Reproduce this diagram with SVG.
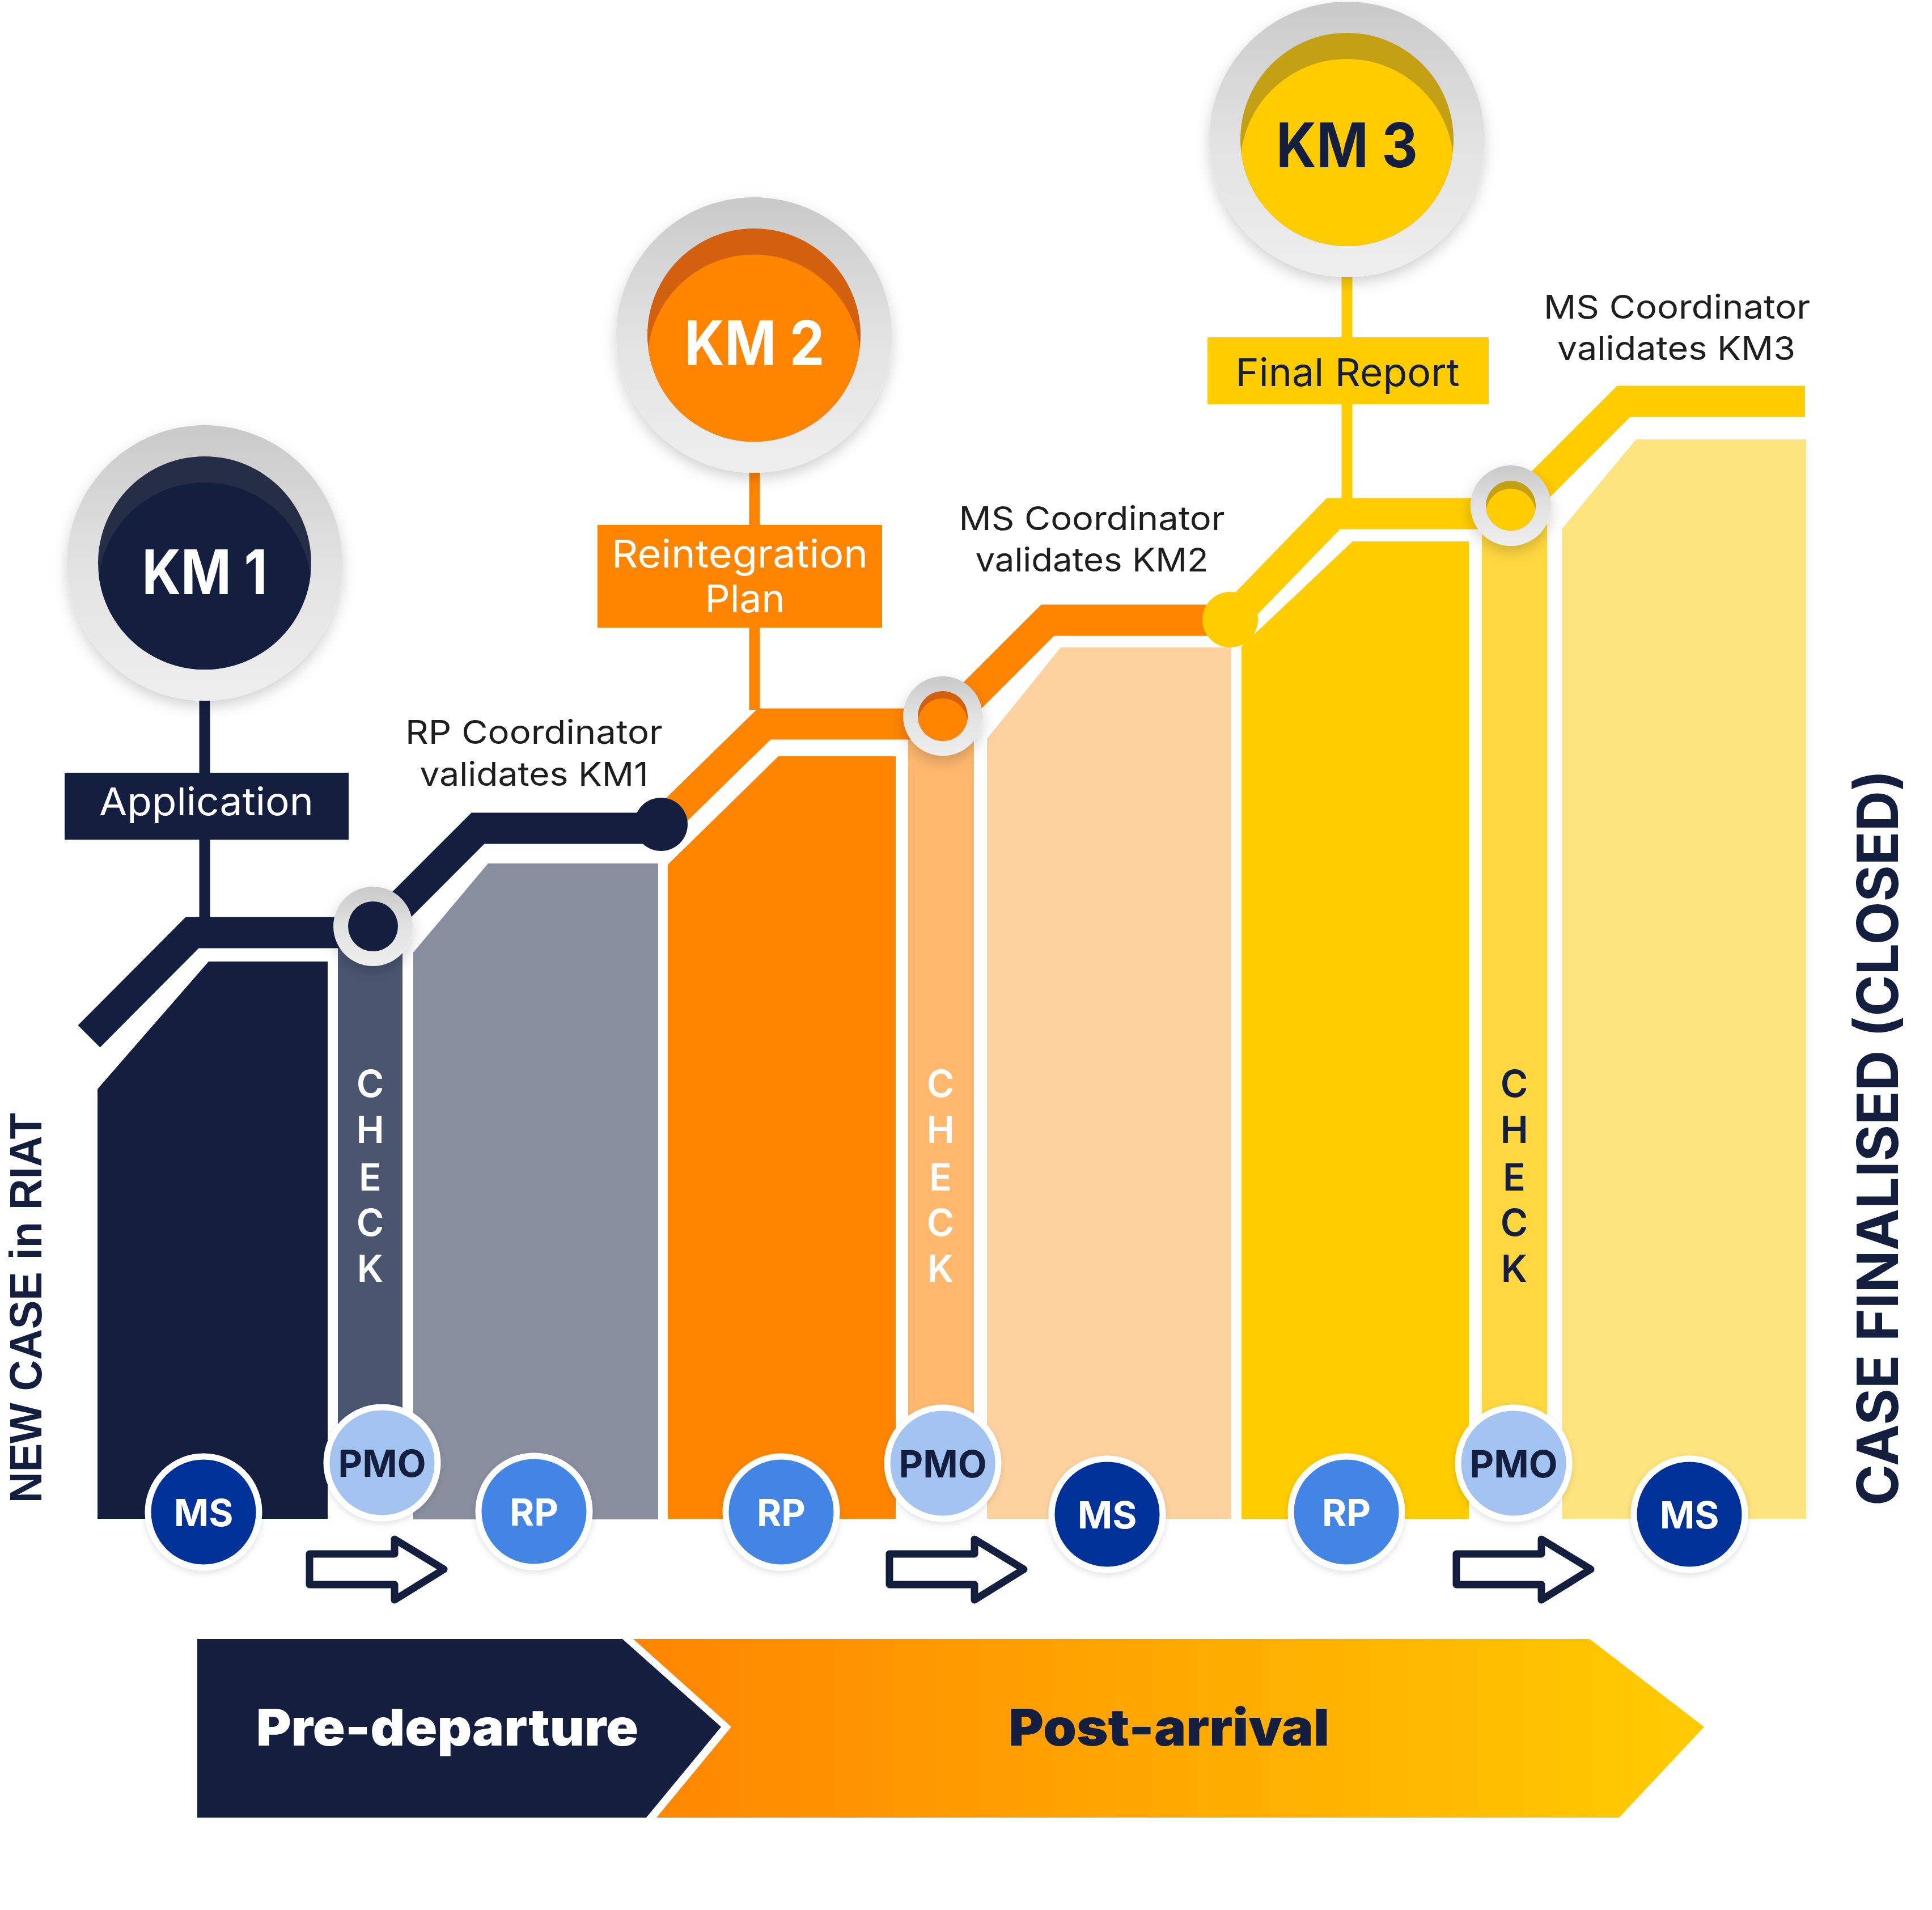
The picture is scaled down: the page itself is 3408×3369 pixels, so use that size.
<svg xmlns="http://www.w3.org/2000/svg" width="3408" height="3369" viewBox="0 0 3408 3369">
<defs>
<style>
.f{font-family:Inter,"Noto Sans","Liberation Sans",sans-serif}
.km{font-size:108px;font-weight:700;text-anchor:middle}
.lbl{font-size:68px;font-weight:400;text-anchor:middle}
.co{font-size:58px;font-weight:400;text-anchor:middle;fill:#1e1e1e}
.chk{font-size:66px;font-weight:600;text-anchor:middle}
.rl{font-size:66px;font-weight:700;text-anchor:middle}
.ln{fill:none;stroke-width:55;stroke-linejoin:miter;stroke-linecap:butt}
.stem{fill:none;stroke-width:19}
.ring{fill:url(#ringG);filter:url(#sh)}
.bc{stroke:#fff;stroke-width:11}
.arr{fill:#fff;stroke:#141F40;stroke-width:13;stroke-linejoin:round}
</style>
<linearGradient id="ringG" x1="0" y1="0" x2="0" y2="1">
<stop offset="0" stop-color="#C9C9C9"/>
<stop offset="0.5" stop-color="#E2E2E2"/>
<stop offset="1" stop-color="#EEEEEE"/>
</linearGradient>
<linearGradient id="postG" gradientUnits="userSpaceOnUse" x1="1117" y1="0" x2="3006" y2="0">
<stop offset="0" stop-color="#FF8500"/>
<stop offset="1" stop-color="#FFCC00"/>
</linearGradient>
<filter id="sh" x="-30%" y="-30%" width="160%" height="160%">
<feDropShadow dx="0" dy="10" stdDeviation="12" flood-color="#000" flood-opacity="0.18"/>
</filter>
<filter id="sh2" x="-30%" y="-30%" width="160%" height="160%">
<feDropShadow dx="0" dy="4" stdDeviation="6" flood-color="#000" flood-opacity="0.12"/>
</filter>
<clipPath id="ck1"><circle cx="361" cy="993" r="188"/></clipPath>
<clipPath id="ck2"><circle cx="1330" cy="591" r="188"/></clipPath>
<clipPath id="ck3"><circle cx="2376" cy="246" r="188"/></clipPath>
<clipPath id="cc2"><circle cx="1663" cy="1263" r="44"/></clipPath>
<clipPath id="cc3"><circle cx="2665" cy="892" r="44"/></clipPath>
</defs>
<rect width="3408" height="3369" fill="#fff"/>

<g id="columns">
<path id="col-ms1" d="M368,1696 H578 V2679 H172 V1921 Z" fill="#141F40"/>
<rect id="col-check1" x="596" y="1634" width="114" height="966" fill="#4A5570"/>
<path id="col-rp1" d="M861,1523 H1161 V2680 H729 V1680 Z" fill="#8A8FA0"/>
<path id="col-rp2" d="M1373,1334 H1580 V2679 H1178 V1525 Z" fill="#FF8500"/>
<rect id="col-check2" x="1602" y="1263" width="116" height="1337" fill="#FFB86E"/>
<path id="col-ms2" d="M1871,1142 H2172 V2679 H1741 V1303 Z" fill="#FDD29F"/>
<path id="col-rp3" d="M2386,955 H2591 V2679 H2190 V1140 Z" fill="#FFCC00"/>
<rect id="col-check3" x="2614" y="892" width="115" height="1708" fill="#FFD740"/>
<path id="col-ms3" d="M2886,775 H3186 V2679 H2755 V933 Z" fill="#FEE47E"/>
</g>

<g id="connectors">
<line class="stem" x1="361" y1="1225" x2="361" y2="1620" stroke="#141F40"/>
<line class="stem" x1="1331" y1="820" x2="1331" y2="1252" stroke="#FF8500"/>
<line class="stem" x1="2376" y1="482" x2="2376" y2="882" stroke="#FFCC00"/>
<polyline class="ln" stroke="#141F40" points="157,1828 339,1645 659,1645 843,1461 1166,1461"/>
<polyline class="ln" stroke="#FF8500" points="1166,1455 1348,1277 1665,1277 1848,1094 2170,1094"/>
<polyline class="ln" stroke="#FFCC00" points="2170,1094 2352,906 2666,906 2864,708 3184,708"/>
<circle id="dot1" cx="1166" cy="1454" r="47" fill="#141F40"/>
<circle id="dot2" cx="2170" cy="1093" r="49" fill="#FFCC00"/>
</g>

<g id="check-circle1">
<circle class="ring" cx="658" cy="1634" r="70"/>
<circle cx="658" cy="1634" r="44" fill="#141F40"/>
</g>
<g id="check-circle2">
<circle class="ring" cx="1663" cy="1263" r="70"/>
<circle cx="1663" cy="1263" r="44" fill="#D2600F"/>
<circle cx="1663" cy="1276" r="44" fill="#FF8500" clip-path="url(#cc2)"/>
</g>
<g id="check-circle3">
<circle class="ring" cx="2665" cy="892" r="71"/>
<circle cx="2665" cy="892" r="44" fill="#C4A014"/>
<circle cx="2665" cy="906" r="44" fill="#FFCC00" clip-path="url(#cc3)"/>
</g>

<g id="km1">
<circle class="ring" cx="361" cy="993" r="243"/>
<circle cx="361" cy="993" r="188" fill="#252D47"/>
<circle cx="361" cy="1039" r="188" fill="#141F40" clip-path="url(#ck1)"/>
<text class="f km" x="361" y="1048" fill="#fff" textLength="221" lengthAdjust="spacingAndGlyphs">KM 1</text>
</g>
<g id="km2">
<circle class="ring" cx="1330" cy="591" r="243"/>
<circle cx="1330" cy="591" r="188" fill="#D2600F"/>
<circle cx="1330" cy="637" r="188" fill="#FF8500" clip-path="url(#ck2)"/>
<text class="f km" x="1331" y="644" fill="#fff" textLength="247" lengthAdjust="spacingAndGlyphs">KM 2</text>
</g>
<g id="km3">
<circle class="ring" cx="2376" cy="246" r="243"/>
<circle cx="2376" cy="246" r="188" fill="#C4A014"/>
<circle cx="2376" cy="292" r="188" fill="#FFCC00" clip-path="url(#ck3)"/>
<text class="f km" x="2376" y="295" fill="#141F40" textLength="250" lengthAdjust="spacingAndGlyphs">KM 3</text>
</g>

<g id="label-application">
<rect x="114" y="1363" width="501" height="118" fill="#141F40"/>
<text class="f lbl" x="364" y="1438" fill="#fff" textLength="378" lengthAdjust="spacingAndGlyphs">Application</text>
</g>
<g id="label-reintegration">
<rect x="1054" y="926" width="502" height="181" fill="#FF8500"/>
<text class="f lbl" x="1305" y="1001" fill="#fff" textLength="452" lengthAdjust="spacingAndGlyphs">Reintegration</text>
<text class="f lbl" x="1314" y="1080" fill="#fff" textLength="141" lengthAdjust="spacingAndGlyphs">Plan</text>
</g>
<g id="label-final">
<rect x="2130" y="595" width="496" height="118" fill="#FFCC00"/>
<text class="f lbl" x="2377" y="681" fill="#141F40" textLength="395" lengthAdjust="spacingAndGlyphs">Final Report</text>
</g>

<g id="note-km1">
<text class="f co" x="942" y="1312" textLength="454" lengthAdjust="spacingAndGlyphs">RP Coordinator</text>
<text class="f co" x="942" y="1386" textLength="403" lengthAdjust="spacingAndGlyphs">validates KM1</text>
</g>
<g id="note-km2">
<text class="f co" x="1926" y="935" textLength="469" lengthAdjust="spacingAndGlyphs">MS Coordinator</text>
<text class="f co" x="1926" y="1008" textLength="411" lengthAdjust="spacingAndGlyphs">validates KM2</text>
</g>
<g id="note-km3">
<text class="f co" x="2958" y="562" textLength="470" lengthAdjust="spacingAndGlyphs">MS Coordinator</text>
<text class="f co" x="2957" y="635" textLength="420" lengthAdjust="spacingAndGlyphs">validates KM3</text>
</g>

<g id="check-text1" class="f chk" fill="#fff">
<text x="653" y="1935">C</text><text x="653" y="2016">H</text><text x="653" y="2100">E</text><text x="653" y="2180">C</text><text x="653" y="2261">K</text>
</g>
<g id="check-text2" class="f chk" fill="#fff">
<text x="1659" y="1935">C</text><text x="1659" y="2016">H</text><text x="1659" y="2100">E</text><text x="1659" y="2180">C</text><text x="1659" y="2261">K</text>
</g>
<g id="check-text3" class="f chk" fill="#141F40">
<text x="2671" y="1935">C</text><text x="2671" y="2016">H</text><text x="2671" y="2100">E</text><text x="2671" y="2180">C</text><text x="2671" y="2261">K</text>
</g>

<g id="role-ms1"><circle class="bc" cx="359" cy="2667" r="98" fill="#003399" filter="url(#sh2)"/><text class="f rl" x="359" y="2692" fill="#fff">MS</text></g>
<g id="role-pmo1"><circle class="bc" cx="674" cy="2580" r="98" fill="#A3C3F0" filter="url(#sh2)"/><text class="f rl" x="674" y="2605" fill="#141F40">PMO</text></g>
<g id="role-rp1"><circle class="bc" cx="942" cy="2666" r="98" fill="#4285E4" filter="url(#sh2)"/><text class="f rl" x="942" y="2691" fill="#fff">RP</text></g>
<g id="role-rp2"><circle class="bc" cx="1378" cy="2667" r="98" fill="#4285E4" filter="url(#sh2)"/><text class="f rl" x="1378" y="2692" fill="#fff">RP</text></g>
<g id="role-pmo2"><circle class="bc" cx="1663" cy="2581" r="98" fill="#A3C3F0" filter="url(#sh2)"/><text class="f rl" x="1663" y="2606" fill="#141F40">PMO</text></g>
<g id="role-ms2"><circle class="bc" cx="1953" cy="2671" r="98" fill="#003399" filter="url(#sh2)"/><text class="f rl" x="1953" y="2696" fill="#fff">MS</text></g>
<g id="role-rp3"><circle class="bc" cx="2375" cy="2667" r="98" fill="#4285E4" filter="url(#sh2)"/><text class="f rl" x="2375" y="2692" fill="#fff">RP</text></g>
<g id="role-pmo3"><circle class="bc" cx="2670" cy="2581" r="98" fill="#A3C3F0" filter="url(#sh2)"/><text class="f rl" x="2670" y="2606" fill="#141F40">PMO</text></g>
<g id="role-ms3"><circle class="bc" cx="2980" cy="2671" r="98" fill="#003399" filter="url(#sh2)"/><text class="f rl" x="2980" y="2696" fill="#fff">MS</text></g>

<g id="arrows">
<path class="arr" d="M546,2741 H696 V2715 L783,2768 L696,2822 V2795 H546 Z"/>
<path class="arr" d="M1569,2741 H1719 V2715 L1806,2768 L1719,2822 V2795 H1569 Z"/>
<path class="arr" d="M2569,2741 H2719 V2715 L2806,2768 L2719,2822 V2795 H2569 Z"/>
</g>

<g id="phase-pre">
<path d="M348,2891 H1098 L1272,3046 L1140,3206 H348 Z" fill="#141F40"/>
<text class="f" x="789" y="3079" font-size="90" font-weight="900" fill="#fff" text-anchor="middle" textLength="674" lengthAdjust="spacingAndGlyphs">Pre-departure</text>
</g>
<g id="phase-post">
<path d="M1117,2891 H2804 L3006,3046 L2856,3206 H1158 L1290,3046 Z" fill="url(#postG)"/>
<text class="f" x="2062" y="3079" font-size="90" font-weight="900" fill="#141F40" text-anchor="middle" textLength="566" lengthAdjust="spacingAndGlyphs">Post-arrival</text>
</g>

<g id="side-labels">
<text transform="translate(73,2307) rotate(-90)" font-family="'Liberation Sans',Arial,sans-serif" font-size="80" font-weight="700" fill="#141F40" text-anchor="middle" textLength="688" lengthAdjust="spacingAndGlyphs">NEW CASE in RIAT</text>
<text class="f" transform="translate(3348,2007) rotate(-90)" font-size="100" font-weight="700" fill="#141F40" text-anchor="middle" textLength="1298" lengthAdjust="spacingAndGlyphs">CASE FINALISED (CLOSED)</text>
</g>
</svg>
